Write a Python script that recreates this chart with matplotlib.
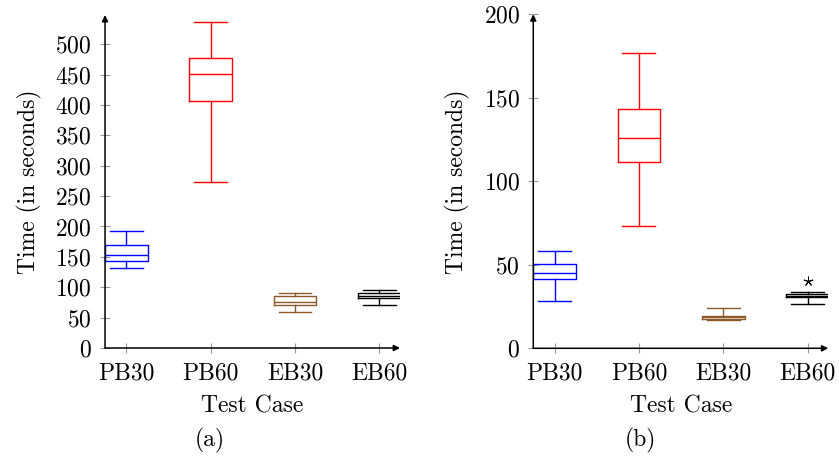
import matplotlib
matplotlib.use("Agg")
import matplotlib.pyplot as plt

plt.rcParams['font.family'] = 'serif'
plt.rcParams['font.serif'] = ['cmr10']
plt.rcParams['mathtext.fontset'] = 'cm'
plt.rcParams['axes.formatter.use_mathtext'] = True
plt.rcParams['font.size'] = 17

categories = ['PB30', 'PB60', 'EB30', 'EB60']
colors = ['#0000ff', '#ff0000', '#8a5a2b', '#000000']

# (whislo, q1, med, q3, whishi)
stats_a = [
    (131.6, 143.6, 153.5, 170.0, 192.0),
    (273.0, 407.0, 450.6, 477.0, 537.0),
    (59.0, 70.7, 75.0, 85.5, 90.0),
    (71.3, 82.0, 86.0, 90.0, 94.8),
]
fliers_a = [[], [], [], []]

stats_b = [
    (28.1, 41.3, 45.1, 50.7, 58.3),
    (73.3, 111.6, 125.7, 143.1, 177.0),
    (17.0, 17.4, 18.8, 19.4, 24.4),
    (26.3, 30.9, 31.5, 32.3, 33.9),
]
fliers_b = [[], [], [], [40.5]]

yticks_a = list(range(0, 501, 50))
yticks_b = list(range(0, 201, 50))


def draw(ax, stats, fliers, ymax, yticks):
    positions = list(range(1, len(categories) + 1))
    for pos, s, fl, c in zip(positions, stats, fliers, colors):
        d = dict(whislo=s[0], q1=s[1], med=s[2], q3=s[3], whishi=s[4], fliers=fl)
        ax.bxp([d], positions=[pos], widths=0.505, showfliers=True,
               boxprops=dict(color=c, lw=1.0),
               medianprops=dict(color=c, lw=1.0),
               whiskerprops=dict(color=c, lw=1.0),
               capprops=dict(color=c, lw=1.0),
               capwidths=0.39,
               flierprops=dict(marker=(5, 2, 0), markersize=7,
                               markeredgecolor=c, markeredgewidth=0.7))
    ax.set_xlim(0.748, 4.245)
    ax.set_ylim(0, ymax)
    ax.set_xticks(positions)
    ax.set_xticklabels(categories)
    ax.set_yticks(yticks)
    for sp in ax.spines.values():
        sp.set_visible(False)
    ax.annotate('', xy=(1, 0), xytext=(0, 0), xycoords='axes fraction',
                arrowprops=dict(arrowstyle='-|>', lw=1.1, color='k', mutation_scale=9,
                                shrinkA=0, shrinkB=0))
    ax.annotate('', xy=(0, 1), xytext=(0, 0), xycoords='axes fraction',
                arrowprops=dict(arrowstyle='-|>', lw=1.1, color='k', mutation_scale=9,
                                shrinkA=0, shrinkB=0))
    ax.tick_params(direction='inout', length=7, width=0.8, color='#999999')
    ax.tick_params(axis='y', pad=6)
    ax.tick_params(axis='x', pad=6.5)
    ax.set_ylabel('Time (in seconds)', labelpad=10)
    ax.set_xlabel('Test Case', labelpad=8)


fig = plt.figure(figsize=(8.39, 4.61), dpi=100)
ax1 = fig.add_axes([0.1252, 0.2451, 0.3516, 0.7223])
ax2 = fig.add_axes([0.6356, 0.2445, 0.3516, 0.7245])

draw(ax1, stats_a, fliers_a, 548, yticks_a)
draw(ax2, stats_b, fliers_b, 200, yticks_b)

fig.text(210 / 839, 1 - 440 / 461, '(a)', ha='center', va='center')
fig.text(640 / 839, 1 - 440 / 461, '(b)', ha='center', va='center')

fig.savefig('out.png', dpi=100)
